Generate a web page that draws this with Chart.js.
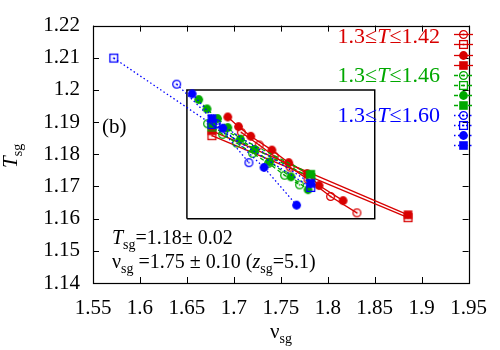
<!DOCTYPE html>
<html><head><meta charset="utf-8">
<script src="https://cdn.jsdelivr.net/npm/chart.js@4/dist/chart.umd.min.js"></script>
<style>html,body{margin:0;padding:0;background:#fff}canvas{display:block}</style>
</head><body>
<canvas id="c" width="500" height="350"></canvas>
<script>
// ---- data ----
const xTickValues = [1.55, 1.6, 1.65, 1.7, 1.75, 1.8, 1.85, 1.9, 1.95];
const yTickValues = [1.14, 1.15, 1.16, 1.17, 1.18, 1.19, 1.2, 1.21, 1.22];
const xTickLabels = ['1.55','1.6','1.65','1.7','1.75','1.8','1.85','1.9','1.95'];
const yTickLabels = ['1.14','1.15','1.16','1.17','1.18','1.19','1.2','1.21','1.22'];

const seriesNames = ['red open circle','red open square','red filled circle','red filled square',
  'green open circle','green open square','green filled circle','green filled square',
  'blue open circle','blue open square','blue filled circle','blue filled square'];

const redOpenCircle_nu   = [1.708, 1.727, 1.743, 1.760, 1.779, 1.803, 1.831];
const redOpenCircle_T    = [1.1868, 1.1829, 1.1794, 1.1760, 1.1722, 1.1669, 1.1618];
const redOpenSquare_nu   = [1.6766, 1.8855];
const redOpenSquare_T    = [1.1858, 1.1603];
const redFilledCircle_nu = [1.6935, 1.705, 1.718, 1.7405, 1.7584, 1.778, 1.7907, 1.8163];
const redFilledCircle_T  = [1.1916, 1.1886, 1.1856, 1.1813, 1.1774, 1.1740, 1.1703, 1.1656];
const redFilledSquare_nu = [1.6766, 1.8855];
const redFilledSquare_T  = [1.1873, 1.1612];

const greenOpenCircle_nu   = [1.672, 1.688, 1.703, 1.720, 1.737, 1.754, 1.770];
const greenOpenCircle_T    = [1.1895, 1.1862, 1.1835, 1.1803, 1.1772, 1.1735, 1.1705];
const greenOpenSquare_nu   = [1.6766, 1.7819];
const greenOpenSquare_T    = [1.1885, 1.1728];
const greenFilledCircle_nu = [1.6626, 1.6714, 1.6826, 1.6935, 1.707, 1.722, 1.738, 1.7608, 1.779];
const greenFilledCircle_T  = [1.1970, 1.1941, 1.1911, 1.1883, 1.1847, 1.1815, 1.1776, 1.1730, 1.1690];
const greenFilledSquare_nu = [1.6766, 1.7819];
const greenFilledSquare_T  = [1.1895, 1.1738];

const blueOpenCircle_nu   = [1.6391, 1.6813, 1.716];
const blueOpenCircle_T    = [1.2018, 1.1896, 1.1774];
const blueOpenSquare_nu   = [1.5721, 1.6766, 1.7819];
const blueOpenSquare_T    = [1.2099, 1.1893, 1.1697];
const blueFilledCircle_nu = [1.6556, 1.6882, 1.7321, 1.7668];
const blueFilledCircle_T  = [1.1988, 1.1881, 1.1759, 1.1642];
const blueFilledSquare_nu = [1.6766, 1.7819];
const blueFilledSquare_T  = [1.1911, 1.1710];

const boxNu = [1.65, 1.85, 1.85, 1.65, 1.65];
const boxT  = [1.16, 1.16, 1.20, 1.20, 1.16];

const rangeLabels = [['1.3≤','T','≤1.42'], ['1.3≤','T','≤1.46'], ['1.3≤','T','≤1.60']];

// ---- styles ----
const RED = '#d80000', GREEN = '#00a800', BLUE = '#0000ff';
const SERIF = '"Liberation Serif", "DejaVu Serif", serif';

function makeMarker(shape, filled, color) {
  const s = 13, m = s / 2;
  const c = document.createElement('canvas'); c.width = s; c.height = s;
  const g = c.getContext('2d');
  g.strokeStyle = color; g.fillStyle = color; g.lineWidth = 1.3;
  if (shape === 'circle') {
    g.beginPath(); g.arc(m, m, filled ? 4.4 : 3.9, 0, 2 * Math.PI);
    if (filled) g.fill(); else g.stroke();
  } else {
    const h = filled ? 4.3 : 3.9;
    if (filled) g.fillRect(m - h, m - h, 2 * h, 2 * h); else g.strokeRect(m - h, m - h, 2 * h, 2 * h);
  }
  if (!filled) g.fillRect(m - 0.8, m - 0.8, 1.6, 1.6);
  return c;
}

const seriesData = [
  [redOpenCircle_nu, redOpenCircle_T, RED, 'circle', false, []],
  [redOpenSquare_nu, redOpenSquare_T, RED, 'rect', false, []],
  [redFilledCircle_nu, redFilledCircle_T, RED, 'circle', true, []],
  [redFilledSquare_nu, redFilledSquare_T, RED, 'rect', true, []],
  [greenOpenCircle_nu, greenOpenCircle_T, GREEN, 'circle', false, [4, 3]],
  [greenOpenSquare_nu, greenOpenSquare_T, GREEN, 'rect', false, [4, 3]],
  [greenFilledCircle_nu, greenFilledCircle_T, GREEN, 'circle', true, [4, 3]],
  [greenFilledSquare_nu, greenFilledSquare_T, GREEN, 'rect', true, [4, 3]],
  [blueOpenCircle_nu, blueOpenCircle_T, BLUE, 'circle', false, [1.5, 2.5]],
  [blueOpenSquare_nu, blueOpenSquare_T, BLUE, 'rect', false, [1.5, 2.5]],
  [blueFilledCircle_nu, blueFilledCircle_T, BLUE, 'circle', true, [1.5, 2.5]],
  [blueFilledSquare_nu, blueFilledSquare_T, BLUE, 'rect', true, [1.5, 2.5]],
];

const datasets = seriesData.map((s, i) => {
  const img = makeMarker(s[3], s[4], s[2]);
  return {
    label: seriesNames[i],
    data: s[0].map((v, k) => ({ x: v, y: s[1][k] })),
    showLine: true,
    borderColor: s[2],
    borderWidth: 1.3,
    borderDash: s[5],
    pointStyle: img,
    pointRadius: 5,
    pointHoverRadius: 5,
    order: 100 - i,
    _img: img,
  };
});
datasets.push({
  label: 'box',
  data: boxNu.map((v, k) => ({ x: v, y: boxT[k] })),
  showLine: true, borderColor: '#000', borderWidth: 1.5, pointRadius: 0, order: 200,
});

function drawRuns(ctx, x, y, runs, color, align) {
  ctx.save();
  ctx.fillStyle = color; ctx.textBaseline = 'alphabetic'; ctx.textAlign = 'left';
  const fontOf = r => (r.i ? 'italic ' : '') + (r.s || 20) + 'px ' + SERIF;
  let total = 0;
  runs.forEach(r => { ctx.font = fontOf(r); total += ctx.measureText(r.t).width; });
  if (align === 'right') x -= total;
  runs.forEach(r => {
    ctx.font = fontOf(r);
    ctx.fillText(r.t, x, y + (r.dy || 0));
    x += ctx.measureText(r.t).width;
  });
  ctx.restore();
}

const decor = {
  id: 'decor',
  afterDraw(chart) {
    const ctx = chart.ctx, a = chart.chartArea;
    const xs = chart.scales.x, ys = chart.scales.y;
    ctx.save();
    // frame
    ctx.strokeStyle = '#000'; ctx.lineWidth = 1.2;
    ctx.strokeRect(Math.round(a.left) + 0.5, Math.round(a.top) + 0.5, Math.round(a.right - a.left), Math.round(a.bottom - a.top));
    // inward ticks, mirrored
    ctx.lineWidth = 1;
    const TL = 6;
    ctx.beginPath();
    xTickValues.forEach(v => {
      const px = Math.round(xs.getPixelForValue(v)) + 0.5;
      ctx.moveTo(px, a.bottom); ctx.lineTo(px, a.bottom - TL);
      ctx.moveTo(px, a.top); ctx.lineTo(px, a.top + TL);
    });
    yTickValues.forEach(v => {
      const py = Math.round(ys.getPixelForValue(v)) + 0.5;
      ctx.moveTo(a.left, py); ctx.lineTo(a.left + TL, py);
      ctx.moveTo(a.right, py); ctx.lineTo(a.right - TL, py);
    });
    ctx.stroke();
    ctx.restore();

    // axis titles
    drawRuns(ctx, 270, 338, [{ t: 'ν', s: 21 }, { t: 'sg', s: 14, dy: 5 }], '#000');
    ctx.save();
    ctx.translate(17, 168); ctx.rotate(-Math.PI / 2);
    drawRuns(ctx, 0, 0, [{ t: 'T', s: 21, i: true }, { t: 'sg', s: 14, dy: 5 }], '#000');
    ctx.restore();

    // panel label and annotations
    drawRuns(ctx, 102, 133, [{ t: '(b)', s: 21 }], '#000');
    drawRuns(ctx, 112, 244, [{ t: 'T', i: true }, { t: 'sg', s: 14, dy: 5 }, { t: '=1.18± 0.02' }], '#000');
    drawRuns(ctx, 112, 268, [{ t: 'ν' }, { t: 'sg', s: 14, dy: 5 }, { t: ' =1.75 ± 0.10 (' }, { t: 'z', i: true }, { t: 'sg', s: 14, dy: 5 }, { t: '=5.1)' }], '#000');

    // range labels
    const cols = [RED, GREEN, BLUE], bases = [42.5, 82.3, 121.5];
    rangeLabels.forEach((r, i) => {
      drawRuns(ctx, 440, bases[i], [{ t: r[0], s: 22 }, { t: r[1], s: 22, i: true }, { t: r[2], s: 22 }], cols[i], 'right');
    });

    // legend keys
    seriesData.forEach((s, i) => {
      const y = Math.round(34.3 + 10.1 * i) + 0.5;
      ctx.save();
      ctx.strokeStyle = s[2]; ctx.lineWidth = 1.3; ctx.setLineDash(s[5]);
      ctx.beginPath(); ctx.moveTo(454, y); ctx.lineTo(473, y); ctx.stroke();
      ctx.restore();
      const img = datasets[i]._img;
      ctx.drawImage(img, 463.5 - img.width / 2, y - img.height / 2);
    });
  }
};

new Chart(document.getElementById('c'), {
  type: 'scatter',
  data: { datasets },
  options: {
    responsive: false, animation: false, devicePixelRatio: 1,
    layout: { padding: { left: 0, right: 27, top: 21, bottom: 0 } },
    plugins: { legend: { display: false }, tooltip: { enabled: false } },
    scales: {
      x: {
        type: 'linear', min: 1.55, max: 1.95,
        grid: { display: false, drawTicks: false }, border: { display: false },
        afterBuildTicks: s => { s.ticks = xTickValues.map(v => ({ value: v })); },
        afterFit: s => { s.height = 67; },
        ticks: { color: '#000', padding: 13, font: { family: SERIF, size: 21 },
          callback: (v, i) => xTickLabels[i], maxRotation: 0, autoSkip: false }
      },
      y: {
        type: 'linear', min: 1.14, max: 1.22,
        grid: { display: false, drawTicks: false }, border: { display: false },
        afterBuildTicks: s => { s.ticks = yTickValues.map(v => ({ value: v })); },
        afterFit: s => { s.width = 93; },
        ticks: { color: '#000', padding: 13, font: { family: SERIF, size: 21 },
          callback: (v, i) => yTickLabels[i], autoSkip: false }
      }
    }
  },
  plugins: [decor]
});
</script></body></html>
